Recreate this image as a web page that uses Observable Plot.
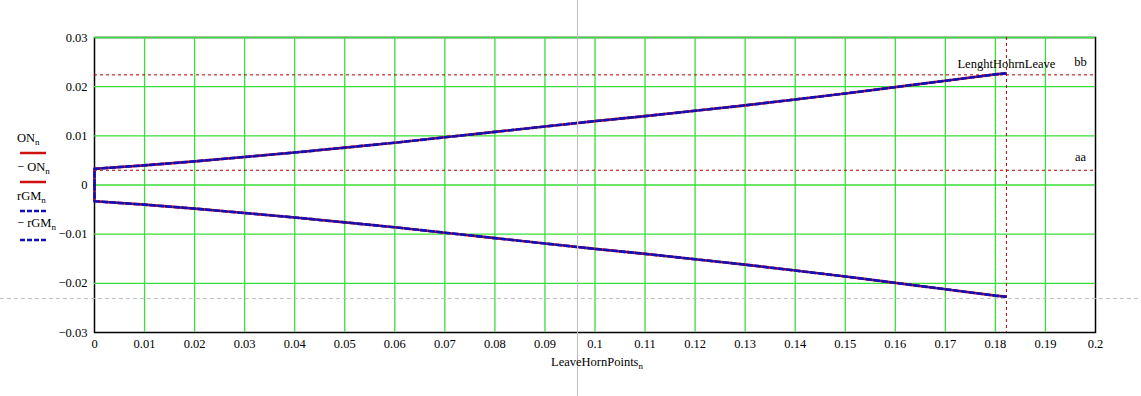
<!DOCTYPE html>
<html>
<head>
<meta charset="utf-8">
<script src="https://cdn.jsdelivr.net/npm/d3@7"></script>
<script src="https://cdn.jsdelivr.net/npm/@observablehq/plot@0.6"></script>
<style>
  html, body { margin: 0; padding: 0; background: #fff; }
  #chart { width: 1141px; height: 396px; }
</style>
</head>
<body>
<div id="chart"></div>
<script>
// ---- data ----
const leaveHornPoints = [0, 0, 0.01, 0.02, 0.03, 0.04, 0.05, 0.06, 0.07, 0.08, 0.09, 0.10, 0.11, 0.12, 0.13, 0.14, 0.15, 0.16, 0.17, 0.18, 0.182];
const ON   = [0, 0.0033, 0.0040, 0.0048, 0.0057, 0.0066, 0.0076, 0.0086, 0.0097, 0.0108, 0.0119, 0.0130, 0.0140, 0.0151, 0.0162, 0.0174, 0.0186, 0.0199, 0.0212, 0.0225, 0.0227];
const negON = [0, -0.0033, -0.0040, -0.0048, -0.0057, -0.0066, -0.0076, -0.0086, -0.0097, -0.0108, -0.0119, -0.0130, -0.0140, -0.0151, -0.0162, -0.0174, -0.0186, -0.0199, -0.0212, -0.0225, -0.0227];
const rGM  = [0, 0.0033, 0.0040, 0.0048, 0.0057, 0.0066, 0.0076, 0.0086, 0.0097, 0.0108, 0.0119, 0.0130, 0.0140, 0.0151, 0.0162, 0.0174, 0.0186, 0.0199, 0.0212, 0.0225, 0.0227];
const negRGM = [0, -0.0033, -0.0040, -0.0048, -0.0057, -0.0066, -0.0076, -0.0086, -0.0097, -0.0108, -0.0119, -0.0130, -0.0140, -0.0151, -0.0162, -0.0174, -0.0186, -0.0199, -0.0212, -0.0225, -0.0227];

const bb = [0.0224];
const aa = [0.0030];
const lenghtHohrnLeave = [0.1822];
const markerLabelX = [0.197];

const xTicks = [0, 0.01, 0.02, 0.03, 0.04, 0.05, 0.06, 0.07, 0.08, 0.09, 0.1, 0.11, 0.12, 0.13, 0.14, 0.15, 0.16, 0.17, 0.18, 0.19, 0.2];
const yTicks = [-0.03, -0.02, -0.01, 0, 0.01, 0.02, 0.03];

// trace cursor (grey crosshair across the whole picture)
const cursorX = [0.0965];
const cursorY = [-0.0231];
const cursorSpanY = [0.0376, -0.0430];
const cursorSpanX = [-0.0188, 0.2093];

// ---- build ----
const fmt = d => d === 0 ? "0" : (d < 0 ? "\u2212" : "") + String(+Math.abs(d).toFixed(2));
const rows = (xs, ys) => xs.map((x, i) => ({x, y: ys[i]}));

const green = "#3ade3a";
const red = "#d01010";
const blue = "#1010b8";
const refRed = "#b00000";
const grey = "#bdbdbd";

const plot = Plot.plot({
  width: 1141,
  height: 396,
  marginLeft: 94,
  marginRight: 46,
  marginTop: 37,
  marginBottom: 64,
  x: {domain: [0, 0.2]},
  y: {domain: [-0.03, 0.03]},
  style: {fontFamily: "'Liberation Serif', 'Times New Roman', serif", fontSize: "12.5px", color: "#000", background: "#fff", overflow: "visible"},
  marks: [
    Plot.frame({stroke: "#000", strokeWidth: 1.5}),
    Plot.ruleX(xTicks.filter(d => d > 0 && d < 0.2), {stroke: green, strokeWidth: 1.3}),
    Plot.ruleY(yTicks.filter(d => d > -0.03), {stroke: green, strokeWidth: 1.3}),
    // reference lines
    Plot.ruleY(bb, {stroke: refRed, strokeWidth: 1, strokeDasharray: "3,3"}),
    Plot.ruleY(aa, {stroke: refRed, strokeWidth: 1, strokeDasharray: "3,3"}),
    Plot.ruleX(lenghtHohrnLeave, {stroke: refRed, strokeWidth: 1, strokeDasharray: "3,3"}),
    // curves
    Plot.line(rows(leaveHornPoints, ON), {x: "x", y: "y", stroke: red, strokeWidth: 2.6}),
    Plot.line(rows(leaveHornPoints, negON), {x: "x", y: "y", stroke: red, strokeWidth: 2.6}),
    Plot.line(rows(leaveHornPoints, rGM), {x: "x", y: "y", stroke: blue, strokeWidth: 2.6, strokeDasharray: "5,3"}),
    Plot.line(rows(leaveHornPoints, negRGM), {x: "x", y: "y", stroke: blue, strokeWidth: 2.6, strokeDasharray: "5,3"}),
    // marker labels
    Plot.text(lenghtHohrnLeave, {x: d => d, y: () => bb[0], text: () => "LenghtHohrnLeave", dy: -11, fill: "#000"}),
    Plot.text(markerLabelX, {x: d => d, y: () => bb[0], text: () => "bb", dy: -13, fill: "#000"}),
    Plot.text(markerLabelX, {x: d => d, y: () => aa[0], text: () => "aa", dy: -13, fill: "#000"}),
    // axes
    Plot.axisX({ticks: xTicks, tickSize: 0, tickPadding: 7, tickFormat: fmt, label: null}),
    Plot.axisY({ticks: yTicks, tickSize: 0, tickPadding: 7, tickFormat: fmt, label: null}),
    // trace cursor
    Plot.ruleX(cursorX, {y1: cursorSpanY[0], y2: cursorSpanY[1], stroke: grey, strokeWidth: 1}),
    Plot.ruleY(cursorY, {x1: cursorSpanX[0], x2: cursorSpanX[1], stroke: grey, strokeWidth: 1, strokeDasharray: "4,3"})
  ]
});

document.getElementById("chart").appendChild(plot);

// ---- axis title and legend (with subscripts) ----
const svg = d3.select(plot);
function subText(g, x, y, main, sub, anchor, size) {
  size = size || 12.5;
  const t = g.append("text")
    .attr("x", x).attr("y", y)
    .attr("text-anchor", anchor || "start")
    .attr("font-family", "'Liberation Serif', 'Times New Roman', serif")
    .attr("font-size", size)
    .attr("fill", "#000");
  t.append("tspan").text(main);
  t.append("tspan").attr("dy", 3).attr("font-size", size * 0.72).text(sub);
  return t;
}
const g = svg.append("g");
subText(g, 597, 366, "LeaveHornPoints", "n", "middle", 12.5);

const legend = [
  {main: "ON", sub: "n", color: red, dash: null, ty: 142, ly: 153},
  {main: "\u2212 ON", sub: "n", color: red, dash: null, ty: 171, ly: 182},
  {main: "rGM", sub: "n", color: blue, dash: "5,2", ty: 200, ly: 211},
  {main: "\u2212 rGM", sub: "n", color: blue, dash: "5,2", ty: 227, ly: 240}
];
legend.forEach(e => {
  subText(g, 17, e.ty, e.main, e.sub, "start", 12.5);
  g.append("line")
    .attr("x1", 20).attr("x2", 46).attr("y1", e.ly).attr("y2", e.ly)
    .attr("stroke", e.color).attr("stroke-width", 2.5)
    .attr("stroke-dasharray", e.dash);
});
</script>
</body>
</html>
